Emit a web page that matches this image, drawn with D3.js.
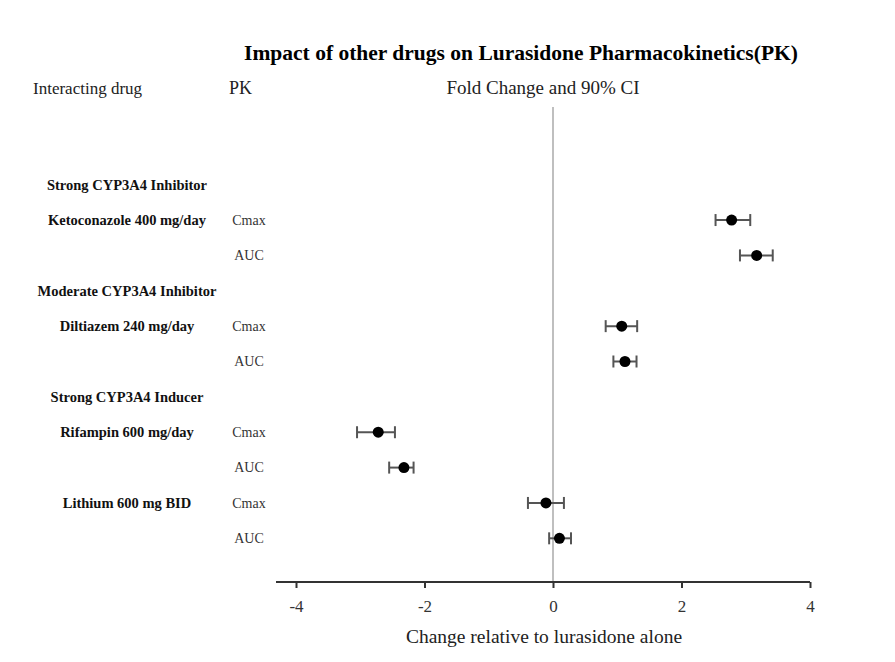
<!DOCTYPE html>
<html>
<head>
<meta charset="utf-8">
<script src="https://cdn.jsdelivr.net/npm/d3@7"></script>
<style>
  body { margin: 0; background: #fff; }
  text { font-family: "Liberation Serif", "Times New Roman", serif; }
</style>
</head>
<body>
<div id="chart"></div>
<script>
// rows, top to bottom
var rowDrug  = ["Strong CYP3A4 Inhibitor", "Ketoconazole 400 mg/day", "", "Moderate CYP3A4 Inhibitor",
                "Diltiazem 240 mg/day", "", "Strong CYP3A4 Inducer", "Rifampin 600 mg/day", "",
                "Lithium 600 mg BID", ""];
var rowPK    = ["", "Cmax", "AUC", "", "Cmax", "AUC", "", "Cmax", "AUC", "Cmax", "AUC"];
var estimate = [null, 2.78, 3.17, null, 1.07, 1.12, null, -2.72, -2.32, -0.11, 0.10];
var ciLow    = [null, 2.53, 2.91, null, 0.82, 0.94, null, -3.05, -2.55, -0.39, -0.06];
var ciHigh   = [null, 3.07, 3.42, null, 1.31, 1.30, null, -2.46, -2.17, 0.17, 0.28];
var xTicks   = [-4, -2, 0, 2, 4];

var W = 895, H = 662;
var svg = d3.select("#chart").append("svg")
    .attr("width", W).attr("height", H);

var x = d3.scaleLinear().domain([-4, 4]).range([296, 810]);
var y = d3.scaleBand().domain(d3.range(rowDrug.length)).range([167, 556]);
var axisY = 582;

// title + column headers
svg.append("text").attr("x", 521).attr("y", 60)
    .attr("text-anchor", "middle").style("font-size", "21.5px").style("font-weight", "bold")
    .text("Impact of other drugs on Lurasidone Pharmacokinetics(PK)");
svg.append("text").attr("x", 33).attr("y", 94).style("font-size", "17px").attr("fill", "#222")
    .text("Interacting drug");
svg.append("text").attr("x", 229).attr("y", 94).style("font-size", "18px").attr("fill", "#222")
    .text("PK");
svg.append("text").attr("x", 543).attr("y", 94).attr("text-anchor", "middle")
    .style("font-size", "19px").attr("fill", "#222")
    .text("Fold Change and 90% CI");

// zero line
svg.append("line")
    .attr("x1", x(0)).attr("x2", x(0)).attr("y1", 107).attr("y2", axisY)
    .attr("stroke", "#aaa").attr("stroke-width", 1.5);

// row labels
var rows = svg.append("g").selectAll("g").data(d3.range(rowDrug.length)).enter().append("g")
    .attr("transform", function(i){ return "translate(0," + (y(i) + y.bandwidth()/2) + ")"; });

rows.append("text").attr("x", 127).attr("dy", "0.35em").attr("text-anchor", "middle")
    .style("font-size", "14.5px").style("font-weight", "bold").attr("fill", "#111")
    .text(function(i){ return rowDrug[i]; });
rows.append("text").attr("x", 249).attr("dy", "0.35em").attr("text-anchor", "middle")
    .style("font-size", "14px").attr("fill", "#333")
    .text(function(i){ return rowPK[i]; });

// error bars
var pts = rows.filter(function(i){ return estimate[i] !== null; });
pts.append("line")
    .attr("x1", function(i){ return x(ciLow[i]); })
    .attr("x2", function(i){ return x(ciHigh[i]); })
    .attr("stroke", "#555").attr("stroke-width", 2);
pts.append("line")
    .attr("x1", function(i){ return x(ciLow[i]); }).attr("x2", function(i){ return x(ciLow[i]); })
    .attr("y1", -6).attr("y2", 6).attr("stroke", "#555").attr("stroke-width", 2);
pts.append("line")
    .attr("x1", function(i){ return x(ciHigh[i]); }).attr("x2", function(i){ return x(ciHigh[i]); })
    .attr("y1", -6).attr("y2", 6).attr("stroke", "#555").attr("stroke-width", 2);
pts.append("circle")
    .attr("cx", function(i){ return x(estimate[i]); })
    .attr("r", 5.5).attr("fill", "#000");

// x axis
var gx = svg.append("g").attr("transform", "translate(0," + axisY + ")")
    .call(d3.axisBottom(x).tickValues(xTicks).tickFormat(function(d){ return String(d); })
        .tickSize(6).tickSizeOuter(0).tickPadding(12));
gx.select(".domain").attr("d", "M276,0H" + x(4)).attr("stroke", "#333").attr("stroke-width", 2);
gx.selectAll(".tick line").attr("stroke", "#333").attr("stroke-width", 2);
gx.selectAll(".tick text").style("font-size", "17px").attr("fill", "#333")
    .style("font-family", "Liberation Serif, serif");

svg.append("text").attr("x", 544).attr("y", 643).attr("text-anchor", "middle")
    .style("font-size", "19.5px").attr("fill", "#222")
    .text("Change relative to lurasidone alone");
</script>
</body>
</html>
